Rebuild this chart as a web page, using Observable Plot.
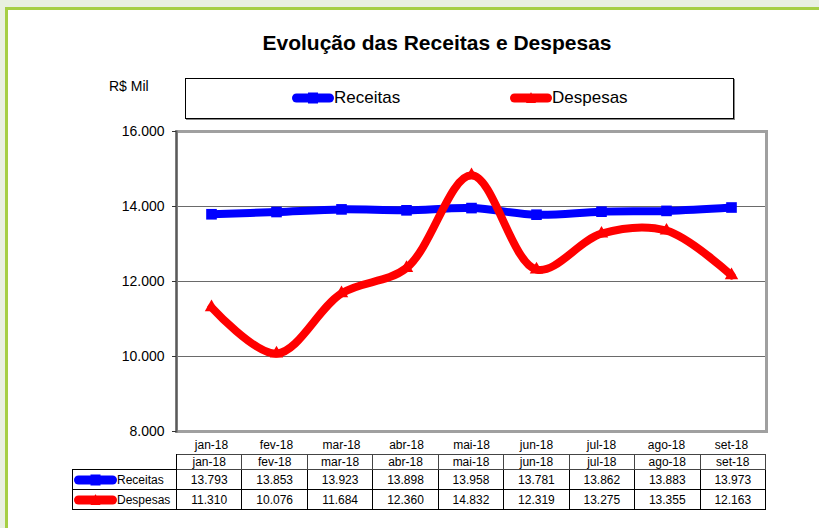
<!DOCTYPE html>
<html>
<head>
<meta charset="utf-8">
<script src="https://cdn.jsdelivr.net/npm/d3@7"></script>
<script src="https://cdn.jsdelivr.net/npm/@observablehq/plot@0.6"></script>
<style>
  html, body { margin: 0; padding: 0; width: 819px; height: 528px; overflow: hidden; background: #e9f0e1; font-family: "Liberation Sans", Arial, sans-serif; }
  #card { position: absolute; left: 5px; top: 7px; width: 900px; height: 600px; background: #fff; border-left: 3px solid #a6cf45; border-top: 3px solid #a6cf45; }
  #title { position: absolute; left: 0; width: 874px; top: 31px; text-align: center; font-weight: bold; font-size: 21px; color: #000; }
  #unit { position: absolute; left: 109px; top: 78px; font-size: 14px; }
  #legend { position: absolute; left: 185px; top: 78px; width: 547px; height: 39px; border: 1px solid #000; box-shadow: 1px 1px 0 #888; }
  .li { position: absolute; top: 9px; font-size: 17px; display: flex; align-items: center; }
  #plot { position: absolute; left: 0; top: 0; }
  table { position: absolute; left: 72px; top: 454px; border-collapse: collapse; table-layout: fixed; width: 694px; font-size: 12px; }
  td { border: 1px solid #000; text-align: center; padding: 0; white-space: nowrap; }
  tr.h td { height: 14px; line-height: 13px; border-color: #444; }
  tr.h td.blank { border: none; border-right: 1px solid #000; }
  tr.r td { height: 19px; }
  td.lab { text-align: left; padding-left: 1px; }
  td.lab span { vertical-align: middle; }
</style>
</head>
<body>
<div id="card"></div>
<div id="title">Evolução das Receitas e Despesas</div>
<div id="unit">R$ Mil</div>
<div id="legend"></div>
<div id="plot"></div>
<table id="tbl"></table>
<script>
const months = ["jan-18","fev-18","mar-18","abr-18","mai-18","jun-18","jul-18","ago-18","set-18"];
const receitas = [13793, 13853, 13923, 13898, 13958, 13781, 13862, 13883, 13973];
const despesas = [11310, 10076, 11684, 12360, 14832, 12319, 13275, 13355, 12163];
const yTicks = [8000, 10000, 12000, 14000, 16000];
const gridTicks = [10000, 12000, 14000];
const seriesNames = ["Receitas", "Despesas"];
const seriesColors = ["#0000ff", "#ff0000"];
const seriesSymbols = ["square", "triangle"];

const fmt = v => d3.format(",")(v).replace(/,/g, ".");
const rec = months.map((m, i) => ({month: m, value: receitas[i]}));
const des = months.map((m, i) => ({month: m, value: despesas[i]}));

const chart = Plot.plot({
  width: 819, height: 528,
  marginLeft: 176, marginRight: 53, marginTop: 131, marginBottom: 97,
  style: {fontFamily: "Liberation Sans, Arial, sans-serif", background: "transparent", overflow: "visible"},
  x: {type: "point", domain: months, padding: 0.5, label: null},
  y: {domain: [8000, 16000], label: null},
  marks: [
    Plot.ruleY(gridTicks, {stroke: "#6a6a6a", strokeWidth: 1}),
    Plot.frame({stroke: "#a0a0a0", strokeWidth: 3}),
    Plot.frame({anchor: "left", stroke: "#5a5a5a", strokeWidth: 2}),
    Plot.axisY({ticks: yTicks, tickFormat: fmt, tickSize: 4, tickPadding: 8, fontSize: 14, stroke: "#333", label: null}),
    Plot.axisX({tickSize: 0, tickPadding: 9, fontSize: 12, label: null}),
    Plot.line(rec, {x: "month", y: "value", stroke: seriesColors[0], strokeWidth: 8, curve: "catmull-rom", strokeLinejoin: "round"}),
    Plot.dot(rec, {x: "month", y: "value", fill: seriesColors[0], symbol: seriesSymbols[0], r: 6}),
    Plot.line(des, {x: "month", y: "value", stroke: seriesColors[1], strokeWidth: 8, curve: "catmull-rom", strokeLinejoin: "round"}),
    Plot.dot(des, {x: "month", y: "value", fill: seriesColors[1], symbol: seriesSymbols[1], r: 5})
  ]
});
document.getElementById("plot").appendChild(chart);

function swatch(color, symbol, w, h) {
  const mid = w / 2, cy = h / 2;
  const mk = symbol === "square"
    ? `<rect x="${mid-5}" y="${cy-5.5}" width="10" height="11" fill="${color}"/>`
    : `<path d="M${mid},${cy-6} L${mid+5},${cy+5} L${mid-5},${cy+5}Z" fill="${color}"/>`;
  return `<svg width="${w}" height="${h}" style="display:block"><line x1="4.5" y1="${cy}" x2="${w-4.5}" y2="${cy}" stroke="${color}" stroke-width="9" stroke-linecap="round"/>${mk}</svg>`;
}

const leg = document.getElementById("legend");
const legX = [106, 324];
seriesNames.forEach((n, i) => {
  const d = document.createElement("div");
  d.className = "li";
  d.style.left = legX[i] + "px";
  d.innerHTML = swatch(seriesColors[i], seriesSymbols[i], 42, 20) + `<span>${n}</span>`;
  leg.appendChild(d);
});

const tbl = document.getElementById("tbl");
let html = `<colgroup><col style="width:104px">${months.map(() => `<col>`).join("")}</colgroup>`;
html += `<tr class="h"><td class="blank"></td>${months.map(m => `<td>${m}</td>`).join("")}</tr>`;
[receitas, despesas].forEach((vals, i) => {
  html += `<tr class="r"><td class="lab"><span style="display:inline-flex;align-items:center">${swatch(seriesColors[i], seriesSymbols[i], 43, 14)}${seriesNames[i]}</span></td>${vals.map(v => `<td>${fmt(v)}</td>`).join("")}</tr>`;
});
tbl.innerHTML = html;
</script>
</body>
</html>
